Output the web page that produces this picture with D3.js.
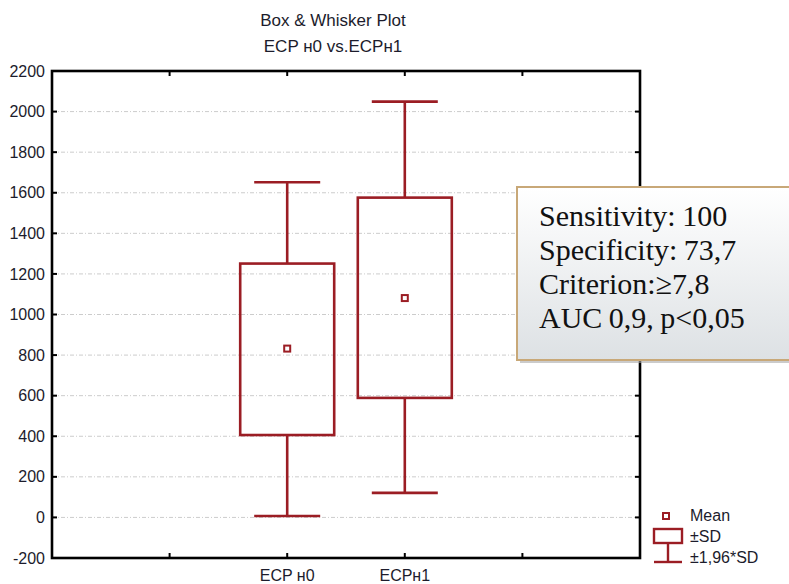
<!DOCTYPE html>
<html>
<head>
<meta charset="utf-8" />
<title>Box & Whisker Plot</title>
<script src="https://d3js.org/d3.v7.min.js"></script>
<style>
  body { margin: 0; background: #fff; }
  svg { display: block; font-family: "Liberation Sans", Arial, sans-serif; }
  .grid line { stroke: #cccccc; stroke-width: 1; stroke-dasharray: 4,2,1,2; }
</style>
</head>
<body>
<div id="chart"></div>
<script>
// values
var categories = ["ECP н0", "ECPн1"];
var slots = ["_a", "ECP н0", "ECPн1", "_b"];
var means = [832, 1081];
var sdLow = [406, 589];
var sdHigh = [1251, 1576];
var ciLow = [7, 121];
var ciHigh = [1652, 2049];
var yTicks = [-200, 0, 200, 400, 600, 800, 1000, 1200, 1400, 1600, 1800, 2000, 2200];
var titleLines = ["Box & Whisker Plot", "ECP н0 vs.ECPн1"];
var noteLines = ["Sensitivity: 100", "Specificity: 73,7", "Criterion:\u22657,8", "AUC 0,9, p<0,05"];
var legendLabels = ["Mean", "±SD", "±1,96*SD"];

var W = 789, H = 584;
var pLeft = 52, pRight = 640, pTop = 71, pBottom = 558;
var red = "#9b1d24";

var svg = d3.select("#chart").append("svg")
  .attr("width", W).attr("height", H);

var y = d3.scaleLinear().domain([-200, 2200]).range([pBottom, pTop]);
var x = d3.scalePoint().domain(slots).range([pLeft, pRight]).padding(1);

// grid
svg.append("g").attr("class", "grid")
  .selectAll("line")
  .data(yTicks.filter(function(d) { return d > -200 && d < 2200; }))
  .enter().append("line")
  .attr("x1", pLeft).attr("x2", pRight)
  .attr("y1", function(d) { return y(d); })
  .attr("y2", function(d) { return y(d); });

// y axis labels
var yAxis = d3.axisLeft(y).tickValues(yTicks).tickSize(0).tickPadding(7)
  .tickFormat(function(d) { return String(d); });
var gy = svg.append("g").attr("transform", "translate(" + pLeft + ",0)").call(yAxis);
gy.select(".domain").remove();
gy.selectAll("text").attr("font-size", 16).attr("fill", "#1c1c2c")
  .attr("font-family", "'Liberation Sans', Arial, sans-serif");

// small inner ticks
var tickG = svg.append("g").attr("stroke", "#000").attr("stroke-width", 2);
yTicks.forEach(function(d) {
  tickG.append("line").attr("x1", pLeft).attr("x2", pLeft + 5).attr("y1", y(d)).attr("y2", y(d));
  tickG.append("line").attr("x1", pRight - 5).attr("x2", pRight).attr("y1", y(d)).attr("y2", y(d));
});
slots.forEach(function(s) {
  tickG.append("line").attr("x1", x(s)).attr("x2", x(s)).attr("y1", pTop).attr("y2", pTop + 5);
  tickG.append("line").attr("x1", x(s)).attr("x2", x(s)).attr("y1", pBottom - 5).attr("y2", pBottom);
});

// x labels
svg.append("g").selectAll("text")
  .data(categories)
  .enter().append("text")
  .attr("x", function(d) { return x(d); })
  .attr("y", 581)
  .attr("text-anchor", "middle")
  .attr("font-size", 16).attr("fill", "#1c1c2c")
  .text(function(d) { return d; });

// boxes
var boxW = 94, capW = 66;
var g = svg.append("g").attr("stroke", red).attr("stroke-width", 2.6).attr("fill", "none");
categories.forEach(function(c, i) {
  var cx = x(c);
  g.append("line").attr("x1", cx).attr("x2", cx).attr("y1", y(ciHigh[i])).attr("y2", y(sdHigh[i]));
  g.append("line").attr("x1", cx).attr("x2", cx).attr("y1", y(sdLow[i])).attr("y2", y(ciLow[i]));
  g.append("line").attr("x1", cx - capW / 2).attr("x2", cx + capW / 2).attr("y1", y(ciHigh[i])).attr("y2", y(ciHigh[i]));
  g.append("line").attr("x1", cx - capW / 2).attr("x2", cx + capW / 2).attr("y1", y(ciLow[i])).attr("y2", y(ciLow[i]));
  g.append("rect").attr("x", cx - boxW / 2).attr("y", y(sdHigh[i]))
    .attr("width", boxW).attr("height", y(sdLow[i]) - y(sdHigh[i]));
  g.append("rect").attr("x", cx - 3).attr("y", y(means[i]) - 3)
    .attr("width", 6).attr("height", 6).attr("stroke-width", 2);
});

// frame
svg.append("rect").attr("x", pLeft).attr("y", pTop)
  .attr("width", pRight - pLeft).attr("height", pBottom - pTop)
  .attr("fill", "none").attr("stroke", "#000").attr("stroke-width", 2.6);

// title
svg.append("g").selectAll("text")
  .data(titleLines)
  .enter().append("text")
  .attr("x", 333)
  .attr("y", function(d, i) { return 26 + i * 26; })
  .attr("text-anchor", "middle")
  .attr("font-size", 17).attr("fill", "#1c1c2c")
  .text(function(d) { return d; });

// annotation box
var defs = svg.append("defs");
var grad = defs.append("linearGradient").attr("id", "noteGrad")
  .attr("x1", 0).attr("y1", 0).attr("x2", 0).attr("y2", 1);
grad.append("stop").attr("offset", "0%").attr("stop-color", "#ffffff");
grad.append("stop").attr("offset", "100%").attr("stop-color", "#dde1e4");

svg.append("rect").attr("x", 520).attr("y", 190).attr("width", 300).attr("height", 173)
  .attr("fill", "#a9a9a9").attr("opacity", 0.6);
svg.append("rect").attr("x", 517).attr("y", 187).attr("width", 300).attr("height", 173)
  .attr("fill", "url(#noteGrad)").attr("stroke", "#c8a878").attr("stroke-width", 2);

svg.append("g").selectAll("text")
  .data(noteLines)
  .enter().append("text")
  .attr("x", 539)
  .attr("y", function(d, i) { return 226 + i * 34; })
  .attr("font-family", "'Liberation Serif', 'Times New Roman', serif")
  .attr("font-size", 30).attr("fill", "#111")
  .attr("word-spacing", -1)
  .text(function(d) { return d; });

// legend
var lg = svg.append("g").attr("stroke", red).attr("fill", "none").attr("stroke-width", 2.4);
lg.append("rect").attr("x", 663).attr("y", 513).attr("width", 6).attr("height", 6).attr("stroke-width", 2);
lg.append("rect").attr("x", 654).attr("y", 529).attr("width", 28).attr("height", 14);
lg.append("line").attr("x1", 668).attr("x2", 668).attr("y1", 543).attr("y2", 562);
lg.append("line").attr("x1", 654).attr("x2", 682).attr("y1", 562).attr("y2", 562);

svg.append("g").selectAll("text")
  .data(legendLabels)
  .enter().append("text")
  .attr("x", 690)
  .attr("y", function(d, i) { return 521 + i * 21; })
  .attr("font-size", 16).attr("fill", "#1c1c2c")
  .text(function(d) { return d; });
</script>
</body>
</html>
